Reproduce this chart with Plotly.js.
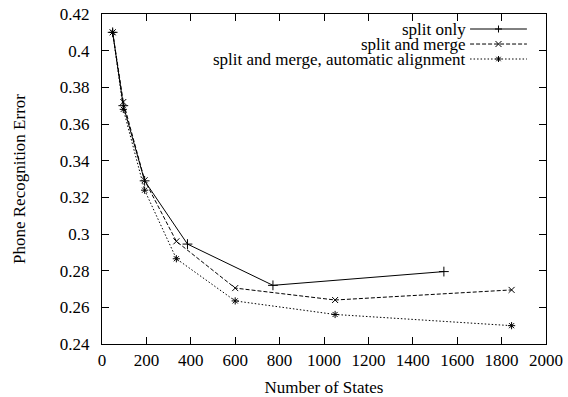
<!DOCTYPE html>
<html>
<head>
<meta charset="utf-8">
<script src="https://cdn.plot.ly/plotly-3.0.1.min.js"></script>
<style>html,body{margin:0;padding:0;background:#fff;}#chart{width:568px;height:397px;}</style>
</head>
<body>
<div id="chart"></div>
<script>
// Data
const splitOnlyX = [48, 96, 192, 385, 770, 1540];
const splitOnlyY = [0.410, 0.370, 0.329, 0.2945, 0.272, 0.2795];

const splitMergeX = [48, 96, 192, 335, 600, 1050, 1845];
const splitMergeY = [0.410, 0.372, 0.3293, 0.296, 0.2705, 0.264, 0.2695];

const autoAlignX = [48, 96, 192, 335, 600, 1050, 1845];
const autoAlignY = [0.410, 0.368, 0.3239, 0.2865, 0.2635, 0.2561, 0.250];

const seriesNames = ["split only", "split and merge", "split and merge, automatic alignment"];
const yTickVals = [0.24, 0.26, 0.28, 0.30, 0.32, 0.34, 0.36, 0.38, 0.40, 0.42];
const yTickText = ["0.24", "0.26", "0.28", "0.3", "0.32", "0.34", "0.36", "0.38", "0.4", "0.42"];
const xTickVals = [0, 200, 400, 600, 800, 1000, 1200, 1400, 1600, 1800, 2000];

const FONT = "Liberation Serif, Times New Roman, serif";
const styles = [
  {dash: "solid", symbol: "cross-thin-open", size: 7},
  {dash: "4px,2px", symbol: "x-thin-open", size: 6},
  {dash: "1.5px,2px", symbol: "asterisk-open", size: 6}
];
const xs = [splitOnlyX, splitMergeX, autoAlignX];
const ys = [splitOnlyY, splitMergeY, autoAlignY];

const traces = xs.map((x, i) => ({
  x: x, y: ys[i], name: seriesNames[i], type: "scatter", mode: "lines+markers",
  line: {color: "#000", width: 1, dash: styles[i].dash},
  marker: {symbol: styles[i].symbol, size: styles[i].size, color: "#000", line: {color: "#000", width: 1}},
  showlegend: false
}));

// gnuplot-style key (text right-aligned, sample to the right)
const keyRowsY = [0.9545, 0.909, 0.8636];
const annotations = seriesNames.map((n, i) => ({
  xref: "paper", yref: "paper", x: 0.822, y: keyRowsY[i], xanchor: "right", yanchor: "middle",
  borderpad: 0,
  text: n, showarrow: false, font: {family: FONT, size: 17, color: "#000"}
}));
const glyphPaths = [
  "M-3.5,0L3.5,0M0,-3.5L0,3.5",
  "M-3,-3L3,3M-3,3L3,-3",
  "M-3,0L3,0M0,-3L0,3M-2.2,-2.2L2.2,2.2M-2.2,2.2L2.2,-2.2"
];
const shapes = [];
keyRowsY.forEach((yy, i) => {
  shapes.push({type: "line", xref: "paper", yref: "paper", x0: 0.829, x1: 0.957, y0: yy, y1: yy,
    line: {color: "#000", width: 1, dash: styles[i].dash}});
  shapes.push({type: "path", xref: "paper", yref: "paper", xsizemode: "pixel", ysizemode: "pixel",
    xanchor: 0.893, yanchor: yy, path: glyphPaths[i], line: {color: "#000", width: 1}});
});

const layout = {
  width: 568, height: 397,
  margin: {l: 102, r: 22, t: 14, b: 53},
  paper_bgcolor: "#fff", plot_bgcolor: "#fff",
  font: {family: FONT, size: 17, color: "#000"},
  showlegend: false,
  xaxis: {
    range: [0, 2000], tickvals: xTickVals, ticks: "inside", ticklen: 7, tickcolor: "#000",
    showline: true, linecolor: "#000", linewidth: 1, mirror: "ticks", showgrid: false, zeroline: false,
    ticklabelstandoff: 1, tickfont: {family: FONT, size: 17},
    title: {text: "Number of States", font: {family: FONT, size: 17}, standoff: 18}
  },
  yaxis: {
    range: [0.24, 0.42], tickvals: yTickVals, ticktext: yTickText, ticks: "inside", ticklen: 7, tickcolor: "#000",
    showline: true, linecolor: "#000", linewidth: 1, mirror: "ticks", showgrid: false, zeroline: false,
    ticklabelstandoff: 8, tickfont: {family: FONT, size: 17},
    title: {text: "Phone Recognition Error", font: {family: FONT, size: 17}, standoff: 29}
  },
  annotations: annotations,
  shapes: shapes
};

Plotly.newPlot("chart", traces, layout, {displayModeBar: false, staticPlot: true});
</script>
</body>
</html>
